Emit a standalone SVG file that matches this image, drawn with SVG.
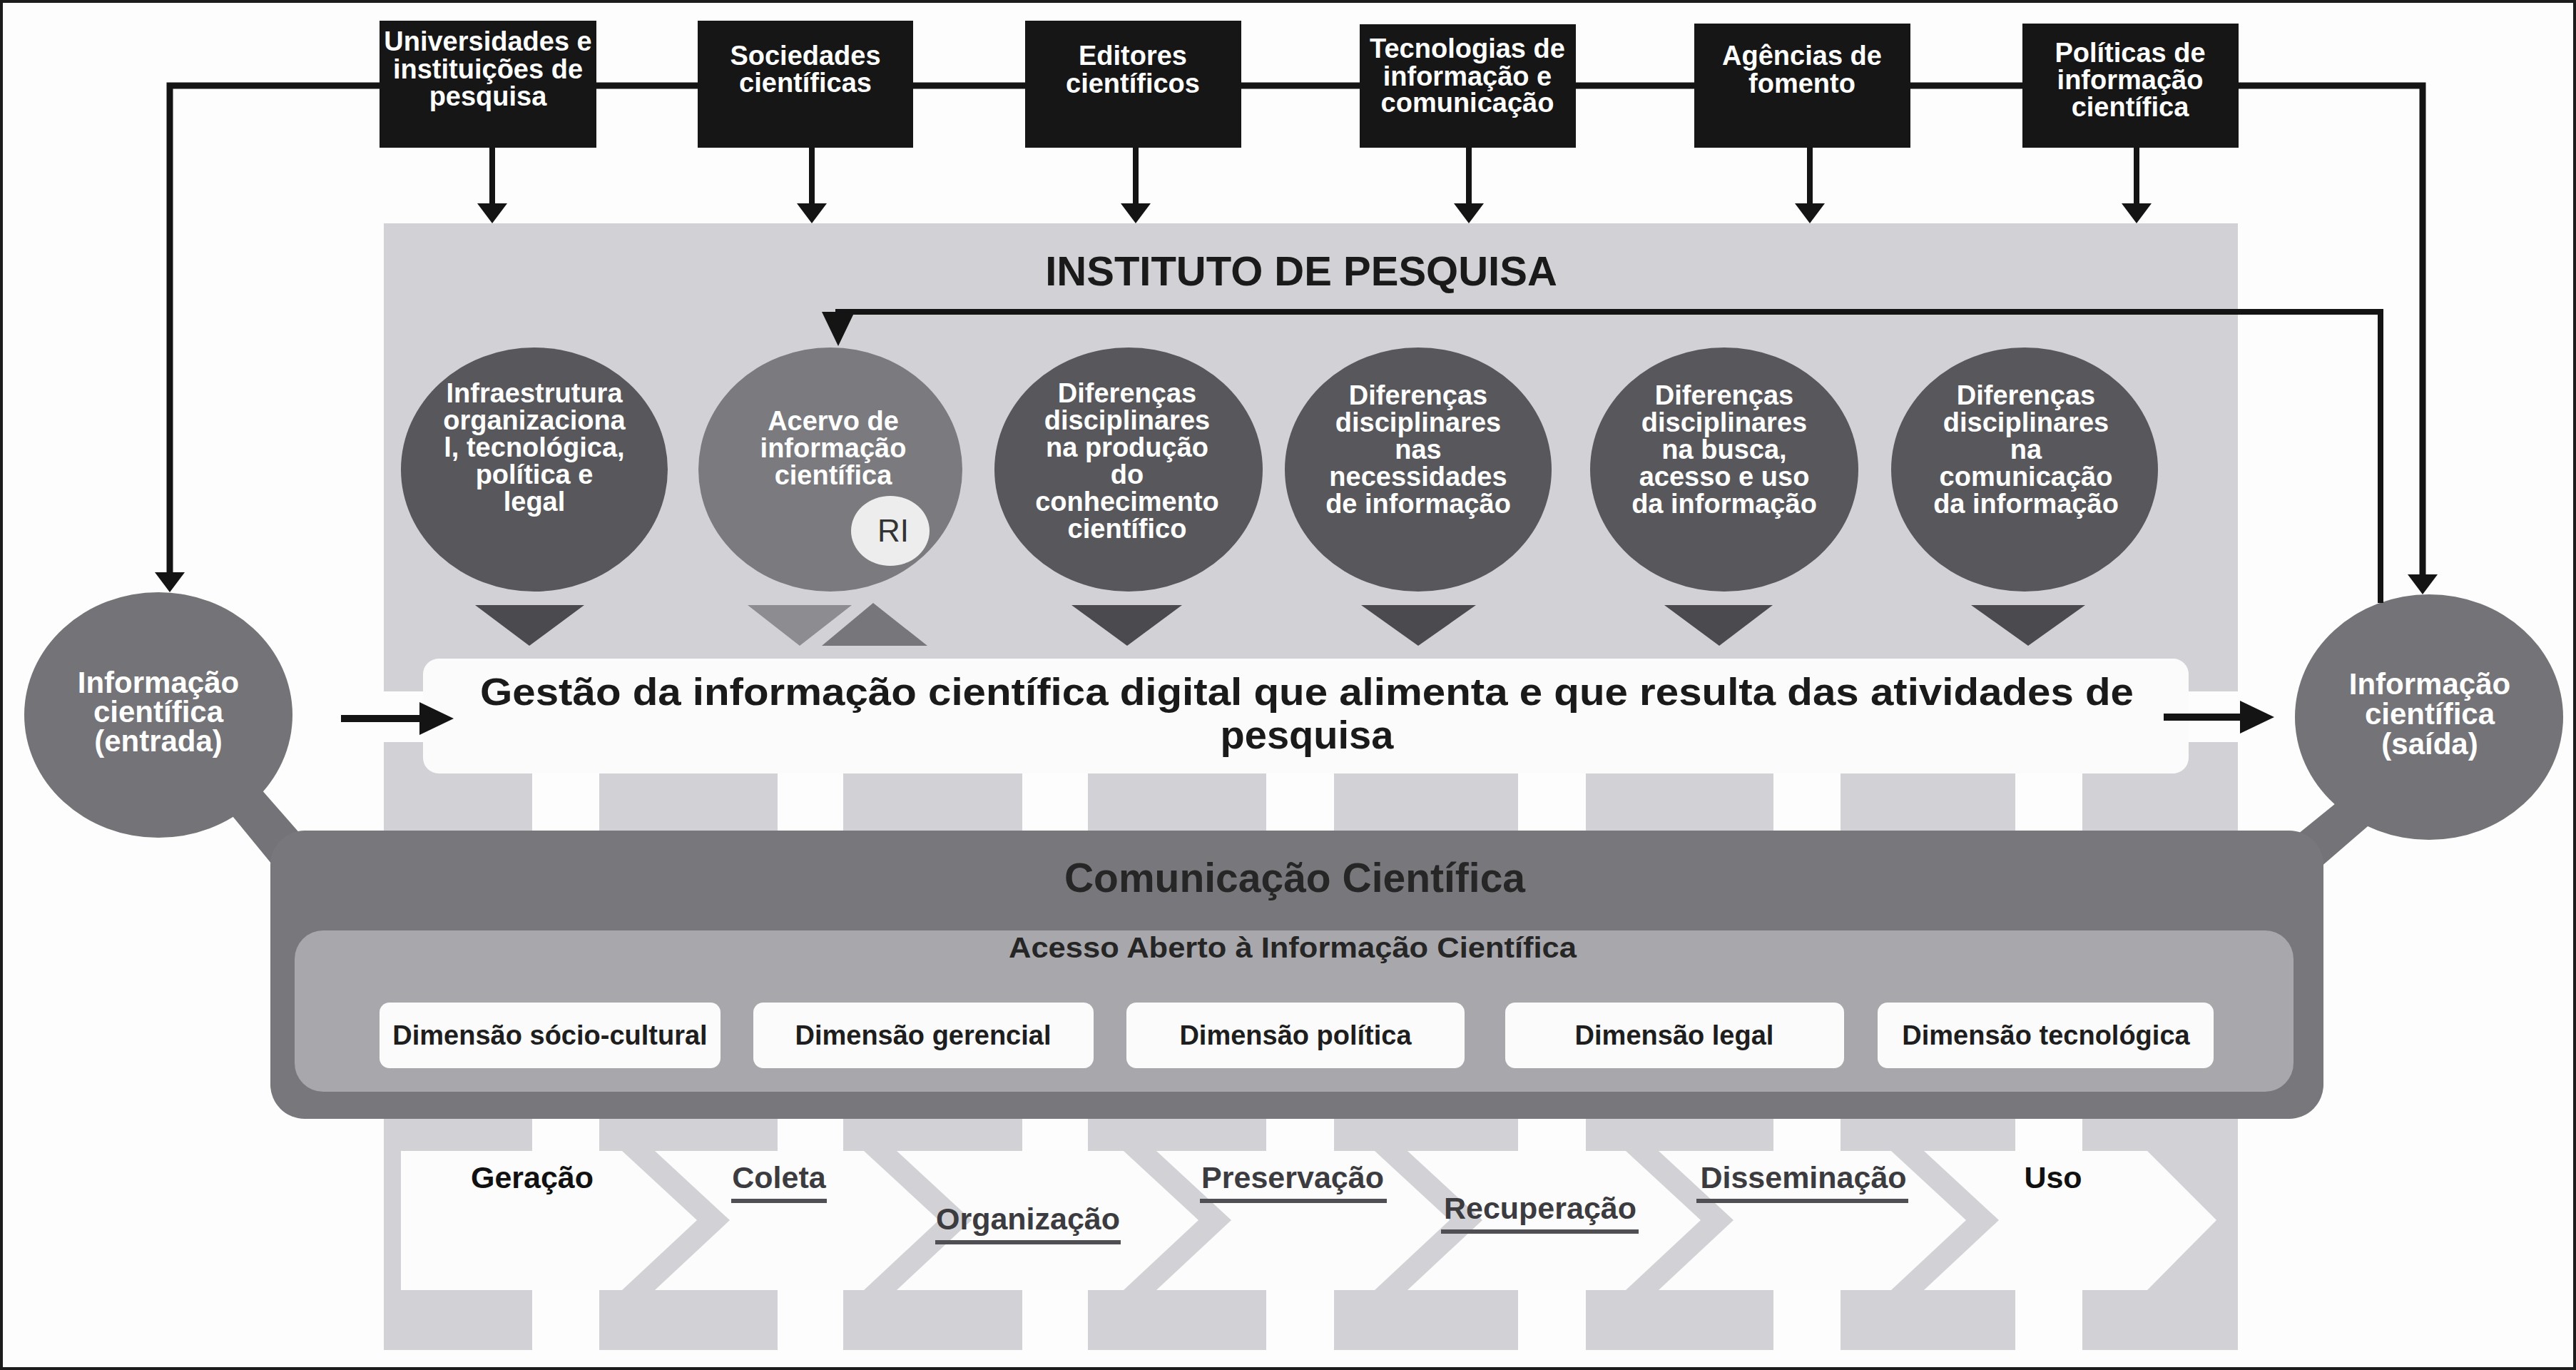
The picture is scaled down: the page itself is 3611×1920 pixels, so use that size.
<svg xmlns="http://www.w3.org/2000/svg" width="3611" height="1920" viewBox="0 0 3611 1920">
<defs>
<style>
text { font-family: 'Liberation Sans', Arial, Helvetica, sans-serif; font-weight: bold; }
.box { fill: #161616; }
.bt { fill: #ffffff; font-size: 38px; text-anchor: middle; }
.ct { fill: #ffffff; font-size: 38px; text-anchor: middle; }
.io { fill: #ffffff; font-size: 42px; text-anchor: middle; }
.dark { fill: #58585c; }
.mid { fill: #747478; }
.tri { fill: #4b4b4f; }
.col { fill: #d2d2d6; }
.wseg { fill: #fcfcfc; }
.dim { fill: #fbfbfb; }
.dt { fill: #1e1e1e; font-size: 38px; text-anchor: middle; }
.lab { font-size: 43px; text-anchor: middle; }
.lk { fill: #111111; }
.lg { fill: #3c3c40; }
.ul { stroke: #505054; stroke-width: 6; }
.conn { fill: none; stroke: #141414; stroke-width: 8; }
.hconn { fill: none; stroke: #141414; stroke-width: 9; }
.ioconn { fill: none; stroke: #141414; stroke-width: 10; }
</style>
<marker id="ah" markerUnits="userSpaceOnUse" viewBox="0 0 28 42" refX="14" refY="21" markerWidth="28" markerHeight="42" orient="auto"><path d="M0,0 L28,21 L0,42 Z" fill="#141414"/></marker>
<marker id="ahb" markerUnits="userSpaceOnUse" viewBox="0 0 48 46" refX="24" refY="23" markerWidth="48" markerHeight="46" orient="auto"><path d="M0,0 L48,23 L0,46 Z" fill="#141414"/></marker>
</defs>

<rect x="2" y="2" width="3607" height="1916" fill="#fdfdfd" stroke="#1c1c1c" stroke-width="4"/>

<g id="instituto-bg">
<rect class="col" x="538" y="313" width="2599" height="771"/>
<rect x="538" y="969" width="55" height="71" fill="#fdfdfd"/>
<rect x="3068" y="969" width="69" height="71" fill="#fdfdfd"/>
<rect class="col" x="538" y="1084" width="208" height="808"/>
<rect class="col" x="840" y="1084" width="250" height="808"/>
<rect class="col" x="1182" y="1084" width="251" height="808"/>
<rect class="col" x="1525" y="1084" width="250" height="808"/>
<rect class="col" x="1870" y="1084" width="258" height="808"/>
<rect class="col" x="2223" y="1084" width="263" height="808"/>
<rect class="col" x="2580" y="1084" width="245" height="808"/>
<rect class="col" x="2919" y="1084" width="218" height="808"/>
<text x="1824" y="400" font-size="58" fill="#1a1a1a" text-anchor="middle">INSTITUTO DE PESQUISA</text>
</g>

<g id="cadeia">
<polygon class="wseg" points="562,1613 872,1613 977,1710 872,1808 562,1808"/>
<polygon class="wseg" points="918,1613 1211,1613 1316,1710 1211,1808 918,1808 1023,1710"/>
<polygon class="wseg" points="1257,1613 1575,1613 1680,1710 1575,1808 1257,1808 1362,1710"/>
<polygon class="wseg" points="1621,1613 1927,1613 2032,1710 1927,1808 1621,1808 1726,1710"/>
<polygon class="wseg" points="1973,1613 2279,1613 2384,1710 2279,1808 1973,1808 2078,1710"/>
<polygon class="wseg" points="2325,1613 2651,1613 2756,1710 2651,1808 2325,1808 2430,1710"/>
<polygon class="wseg" points="2697,1613 3010,1613 3107,1710 3010,1808 2697,1808 2802,1710"/>
<text class="lab lk" x="746" y="1665">Geração</text>
<text class="lab lg" x="1092" y="1665">Coleta</text>
<line class="ul" x1="1025" y1="1683" x2="1159" y2="1683"/>
<text class="lab lg" x="1441" y="1723">Organização</text>
<line class="ul" x1="1311" y1="1741" x2="1571" y2="1741"/>
<text class="lab lg" x="1812" y="1665">Preservação</text>
<line class="ul" x1="1682" y1="1683" x2="1944" y2="1683"/>
<text class="lab lg" x="2159" y="1708">Recuperação</text>
<line class="ul" x1="2020" y1="1726" x2="2297" y2="1726"/>
<text class="lab lg" x="2528" y="1665">Disseminação</text>
<line class="ul" x1="2378" y1="1683" x2="2675" y2="1683"/>
<text class="lab lk" x="2878" y="1665">Uso</text>
</g>

<g id="gestao">
<rect x="593" y="923" width="2475" height="161" rx="22" fill="#fbfbfb"/>
<text x="1832" y="988" font-size="54" fill="#1a1a1a" text-anchor="middle" textLength="2318" lengthAdjust="spacingAndGlyphs">Gestão da informação científica digital que alimenta e que resulta das atividades de</text>
<text x="1832" y="1049" font-size="56" fill="#1a1a1a" text-anchor="middle">pesquisa</text>
</g>

<g id="bandas">
<polygon class="mid" points="330,1065 430,1179 390,1222 290,1100"/>
<polygon class="mid" points="3290,1113 3340,1140 3245,1222 3200,1186"/>
</g>

<g id="comunicacao">
<rect x="379" y="1164" width="2878" height="404" rx="48" fill="#78787c"/>
<text x="1815" y="1250" font-size="57" fill="#262626" text-anchor="middle">Comunicação Científica</text>
</g>

<g id="acesso-aberto">
<rect x="413" y="1304" width="2802" height="226" rx="40" fill="#a8a8ac"/>
<text x="1812" y="1342" font-size="41" fill="#262626" text-anchor="middle" textLength="796" lengthAdjust="spacingAndGlyphs">Acesso Aberto à Informação Científica</text>
</g>

<g id="dim-socio"><rect class="dim" x="532" y="1405" width="478" height="92" rx="14"/><text class="dt" x="771" y="1464">Dimensão sócio-cultural</text></g>
<g id="dim-gerencial"><rect class="dim" x="1056" y="1405" width="477" height="92" rx="14"/><text class="dt" x="1294" y="1464">Dimensão gerencial</text></g>
<g id="dim-politica"><rect class="dim" x="1579" y="1405" width="474" height="92" rx="14"/><text class="dt" x="1816" y="1464">Dimensão política</text></g>
<g id="dim-legal"><rect class="dim" x="2110" y="1405" width="475" height="92" rx="14"/><text class="dt" x="2347" y="1464">Dimensão legal</text></g>
<g id="dim-tecnologica"><rect class="dim" x="2632" y="1405" width="471" height="92" rx="14"/><text class="dt" x="2868" y="1464">Dimensão tecnológica</text></g>

<g id="entrada">
<ellipse class="mid" cx="222" cy="1002" rx="188" ry="172"/>
<text class="io" x="222" y="971">Informação</text>
<text class="io" x="222" y="1012">científica</text>
<text class="io" x="222" y="1053">(entrada)</text>
</g>
<g id="saida">
<ellipse class="mid" cx="3405" cy="1005" rx="188" ry="172"/>
<text class="io" x="3406" y="973">Informação</text>
<text class="io" x="3406" y="1015">científica</text>
<text class="io" x="3406" y="1057">(saída)</text>
</g>

<g id="infraestrutura">
<ellipse class="dark" cx="749" cy="658" rx="187" ry="171"/>
<polygon class="tri" points="666,848 819,848 742,905"/>
<text class="ct" x="749" y="564">Infraestrutura</text>
<text class="ct" x="749" y="602">organizaciona</text>
<text class="ct" x="749" y="640">l, tecnológica,</text>
<text class="ct" x="749" y="678">política e</text>
<text class="ct" x="749" y="716">legal</text>
</g>
<g id="acervo">
<ellipse cx="1164" cy="658" rx="185" ry="171" fill="#7b7b7f"/>
<polygon points="1048,848 1194,848 1121,905" fill="#8d8d91"/>
<polygon points="1152,905 1300,905 1224,845" fill="#77777b"/>
<text class="ct" x="1168" y="603">Acervo de</text>
<text class="ct" x="1168" y="641">informação</text>
<text class="ct" x="1168" y="679">científica</text>
<ellipse cx="1248" cy="744" rx="55" ry="49" fill="#ededed"/>
<text x="1252" y="759" font-size="44" fill="#333333" text-anchor="middle" style="font-weight:normal">RI</text>
</g>
<g id="producao">
<ellipse class="dark" cx="1582" cy="658" rx="188" ry="171"/>
<polygon class="tri" points="1502,848 1657,848 1580,905"/>
<text class="ct" x="1580" y="564">Diferenças</text>
<text class="ct" x="1580" y="602">disciplinares</text>
<text class="ct" x="1580" y="640">na produção</text>
<text class="ct" x="1580" y="678">do</text>
<text class="ct" x="1580" y="716">conhecimento</text>
<text class="ct" x="1580" y="754">científico</text>
</g>
<g id="necessidades">
<ellipse class="dark" cx="1988" cy="658" rx="187" ry="171"/>
<polygon class="tri" points="1908,848 2069,848 1988,905"/>
<text class="ct" x="1988" y="567">Diferenças</text>
<text class="ct" x="1988" y="605">disciplinares</text>
<text class="ct" x="1988" y="643">nas</text>
<text class="ct" x="1988" y="681">necessidades</text>
<text class="ct" x="1988" y="719">de informação</text>
</g>
<g id="busca">
<ellipse class="dark" cx="2417" cy="658" rx="188" ry="171"/>
<polygon class="tri" points="2333,848 2485,848 2410,905"/>
<text class="ct" x="2417" y="567">Diferenças</text>
<text class="ct" x="2417" y="605">disciplinares</text>
<text class="ct" x="2417" y="643">na busca,</text>
<text class="ct" x="2417" y="681">acesso e uso</text>
<text class="ct" x="2417" y="719">da informação</text>
</g>
<g id="comunicacao-info">
<ellipse class="dark" cx="2838" cy="658" rx="187" ry="171"/>
<polygon class="tri" points="2763,848 2923,848 2843,905"/>
<text class="ct" x="2840" y="567">Diferenças</text>
<text class="ct" x="2840" y="605">disciplinares</text>
<text class="ct" x="2840" y="643">na</text>
<text class="ct" x="2840" y="681">comunicação</text>
<text class="ct" x="2840" y="719">da informação</text>
</g>

<g id="connectors">
<path class="hconn" d="M 1000,120 H 238 V 816" marker-end="url(#ah)"/>
<path class="hconn" d="M 1000,120 H 3396 V 819" marker-end="url(#ah)"/>
<path class="conn" d="M 690,207 V 299" marker-end="url(#ah)"/>
<path class="conn" d="M 1138,207 V 299" marker-end="url(#ah)"/>
<path class="conn" d="M 1592,207 V 299" marker-end="url(#ah)"/>
<path class="conn" d="M 2059,207 V 299" marker-end="url(#ah)"/>
<path class="conn" d="M 2537,207 V 299" marker-end="url(#ah)"/>
<path class="conn" d="M 2995,207 V 299" marker-end="url(#ah)"/>
<path class="conn" d="M 3337,845 V 437 H 1175 V 461" marker-end="url(#ahb)"/>
<path class="ioconn" d="M 478,1007 H 612" marker-end="url(#ahb)"/>
<path class="ioconn" d="M 3033,1005 H 3164" marker-end="url(#ahb)"/>
</g>

<g id="universidades"><rect class="box" x="532" y="29" width="304" height="178"/><text class="bt" x="684" y="71">Universidades e</text><text class="bt" x="684" y="110">instituições de</text><text class="bt" x="684" y="148">pesquisa</text></g>
<g id="sociedades"><rect class="box" x="978" y="29" width="302" height="178"/><text class="bt" x="1129" y="91">Sociedades</text><text class="bt" x="1129" y="129">científicas</text></g>
<g id="editores"><rect class="box" x="1437" y="29" width="303" height="178"/><text class="bt" x="1588" y="91">Editores</text><text class="bt" x="1588" y="130">científicos</text></g>
<g id="tecnologias"><rect class="box" x="1906" y="34" width="303" height="173"/><text class="bt" x="2057" y="81">Tecnologias de</text><text class="bt" x="2057" y="120">informação e</text><text class="bt" x="2057" y="157">comunicação</text></g>
<g id="agencias"><rect class="box" x="2375" y="33" width="303" height="174"/><text class="bt" x="2526" y="91">Agências de</text><text class="bt" x="2526" y="130">fomento</text></g>
<g id="politicas"><rect class="box" x="2835" y="33" width="303" height="174"/><text class="bt" x="2986" y="87">Políticas de</text><text class="bt" x="2986" y="125">informação</text><text class="bt" x="2986" y="163">científica</text></g>
</svg>
